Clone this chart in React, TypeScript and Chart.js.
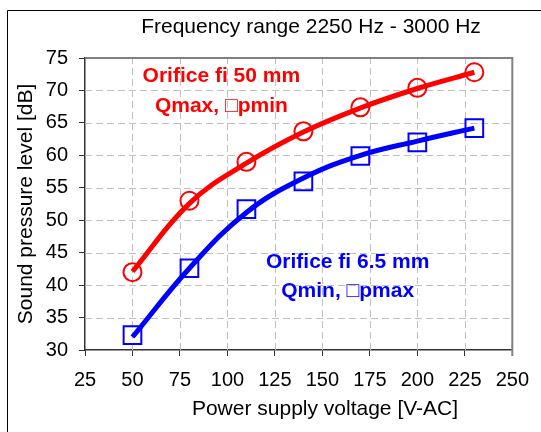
import React, { useEffect, useRef } from "react";
import { Chart, registerables } from "chart.js";

Chart.register(...registerables);

const voltages = [50, 80, 110, 140, 170, 200, 230];
// measured points (markers)
const orifice50 = [42.0, 53.0, 59.0, 63.7, 67.4, 70.4, 72.8];
const orifice65 = [32.3, 42.6, 51.7, 56.0, 59.9, 62.0, 64.2];
// trend curves at the same voltages
const trend50 = [42.1, 52.6, 58.8, 63.6, 67.3, 70.3, 72.8];
const trend65 = [32.0, 42.6, 51.2, 56.5, 60.0, 62.2, 64.2];

const chartTitle = "Frequency range 2250 Hz - 3000 Hz";
const xTitle = "Power supply voltage [V-AC]";
const yTitle = "Sound pressure level [dB]";

// annotation labels: [text, x value, y value]
const redLabels: [string, number, number][] = [
  ["Orifice fi 50 mm", 96.8, 72.2],
  ["Qmax, \u25A1pmin", 96.8, 67.6],
];
const blueLabels: [string, number, number][] = [
  ["Orifice fi 6.5 mm", 163.3, 43.5],
  ["Qmin, \u25A1pmax", 163.3, 39.0],
];

const FONT = "'Liberation Sans', Arial, sans-serif";

const decorPlugin = {
  id: "decor",
  beforeDraw(chart: any) {
    const ctx = chart.ctx;
    ctx.save();
    ctx.fillStyle = "#ffffff";
    ctx.fillRect(0, 0, chart.width, chart.height);
    ctx.strokeStyle = "#000000";
    ctx.lineWidth = 1;
    ctx.beginPath();
    ctx.moveTo(7.5, chart.height);
    ctx.lineTo(7.5, 10.5);
    ctx.lineTo(chart.width, 10.5);
    ctx.stroke();
    ctx.restore();
  },
  beforeDatasetsDraw(chart: any) {
    const ctx = chart.ctx;
    const { left, right, top, bottom } = chart.chartArea;
    const xs = chart.scales.x;
    const ys = chart.scales.y;
    ctx.save();
    ctx.strokeStyle = "#c0c0c0";
    ctx.lineWidth = 1;
    ctx.setLineDash([7, 4]);
    for (const t of xs.ticks) {
      const px = Math.round(xs.getPixelForValue(t.value)) + 0.5;
      if (px <= left + 1 || px >= right - 1) continue;
      ctx.beginPath();
      ctx.moveTo(px, bottom);
      ctx.lineTo(px, top);
      ctx.stroke();
    }
    for (const t of ys.ticks) {
      const py = Math.round(ys.getPixelForValue(t.value)) + 0.5;
      if (py <= top + 1 || py >= bottom - 1) continue;
      ctx.beginPath();
      ctx.moveTo(left, py);
      ctx.lineTo(right, py);
      ctx.stroke();
    }
    ctx.setLineDash([]);
    ctx.strokeStyle = "#808080";
    ctx.lineWidth = 2;
    ctx.beginPath();
    ctx.moveTo(left, top);
    ctx.lineTo(right, top);
    ctx.lineTo(right, bottom + 6);
    ctx.stroke();
    ctx.restore();
  },
  afterDatasetsDraw(chart: any) {
    const ctx = chart.ctx;
    const { top, bottom } = chart.chartArea;
    const xs = chart.scales.x;
    const ys = chart.scales.y;
    ctx.save();
    ctx.fillStyle = "#000000";
    ctx.textAlign = "center";
    ctx.textBaseline = "middle";
    ctx.font = `21px ${FONT}`;
    ctx.fillText(chartTitle, 311, 27);
    ctx.fillText(xTitle, 325, 409);
    ctx.save();
    ctx.translate(26, (top + bottom) / 2);
    ctx.rotate(-Math.PI / 2);
    ctx.fillText(yTitle, 0, 0);
    ctx.restore();

    ctx.font = `bold 21px ${FONT}`;
    ctx.fillStyle = "#ff0000";
    for (const [t, xv, yv] of redLabels) {
      ctx.fillText(t, xs.getPixelForValue(xv), ys.getPixelForValue(yv));
    }
    ctx.fillStyle = "#0000ff";
    for (const [t, xv, yv] of blueLabels) {
      ctx.fillText(t, xs.getPixelForValue(xv), ys.getPixelForValue(yv));
    }
    ctx.restore();
  },
};

function series(ys: number[]) {
  return voltages.map((v, i) => ({ x: v, y: ys[i] }));
}

export default function App() {
  const ref = useRef<HTMLCanvasElement>(null);
  useEffect(() => {
    document.body.style.margin = "0";
    const chart = new Chart(ref.current!, {
      type: "line",
      data: {
        datasets: [
          {
            label: "trend 50",
            data: series(trend50),
            borderColor: "#ff0000",
            borderWidth: 5,
            tension: 0.4,
            pointRadius: 0,
            order: 2,
          },
          {
            label: "trend 6.5",
            data: series(trend65),
            borderColor: "#0000ff",
            borderWidth: 5,
            tension: 0.4,
            pointRadius: 0,
            order: 2,
          },
          {
            label: "Orifice fi 50 mm",
            data: series(orifice50),
            showLine: false,
            pointStyle: "circle",
            pointRadius: 9,
            pointBorderWidth: 2,
            pointBorderColor: "#ff0000",
            pointBackgroundColor: "rgba(0,0,0,0)",
            order: 1,
          },
          {
            label: "Orifice fi 6.5 mm",
            data: series(orifice65),
            showLine: false,
            pointStyle: "rect",
            pointRadius: 12.5,
            pointBorderWidth: 2,
            pointBorderColor: "#0000ff",
            pointBackgroundColor: "rgba(0,0,0,0)",
            order: 1,
          },
        ],
      },
      options: {
        responsive: false,
        animation: false,
        layout: { padding: { left: 0, top: 58, right: 20, bottom: 0 } },
        plugins: {
          legend: { display: false },
          title: { display: false },
          tooltip: { enabled: false },
        },
        scales: {
          x: {
            type: "linear",
            min: 25,
            max: 250,
            afterFit: (s: any) => {
              s.height = 82;
            },
            ticks: {
              stepSize: 25,
              padding: 12,
              color: "#000000",
              font: { family: FONT, size: 20 },
              maxRotation: 0,
            },
            grid: {
              drawOnChartArea: false,
              color: "#333333",
              tickColor: "#333333",
              tickLength: 6,
            },
            border: { color: "#333333", width: 1.5 },
          },
          y: {
            type: "linear",
            min: 30,
            max: 75,
            afterFit: (s: any) => {
              s.width = 85;
            },
            ticks: {
              stepSize: 5,
              padding: 11,
              color: "#000000",
              font: { family: FONT, size: 20 },
            },
            grid: {
              drawOnChartArea: false,
              color: "#333333",
              tickColor: "#333333",
              tickLength: 6,
            },
            border: { color: "#333333", width: 1.5 },
          },
        },
      } as any,
      plugins: [decorPlugin],
    });
    return () => chart.destroy();
  }, []);
  return <canvas ref={ref} width={541} height={432} style={{ display: "block" }} />;
}
